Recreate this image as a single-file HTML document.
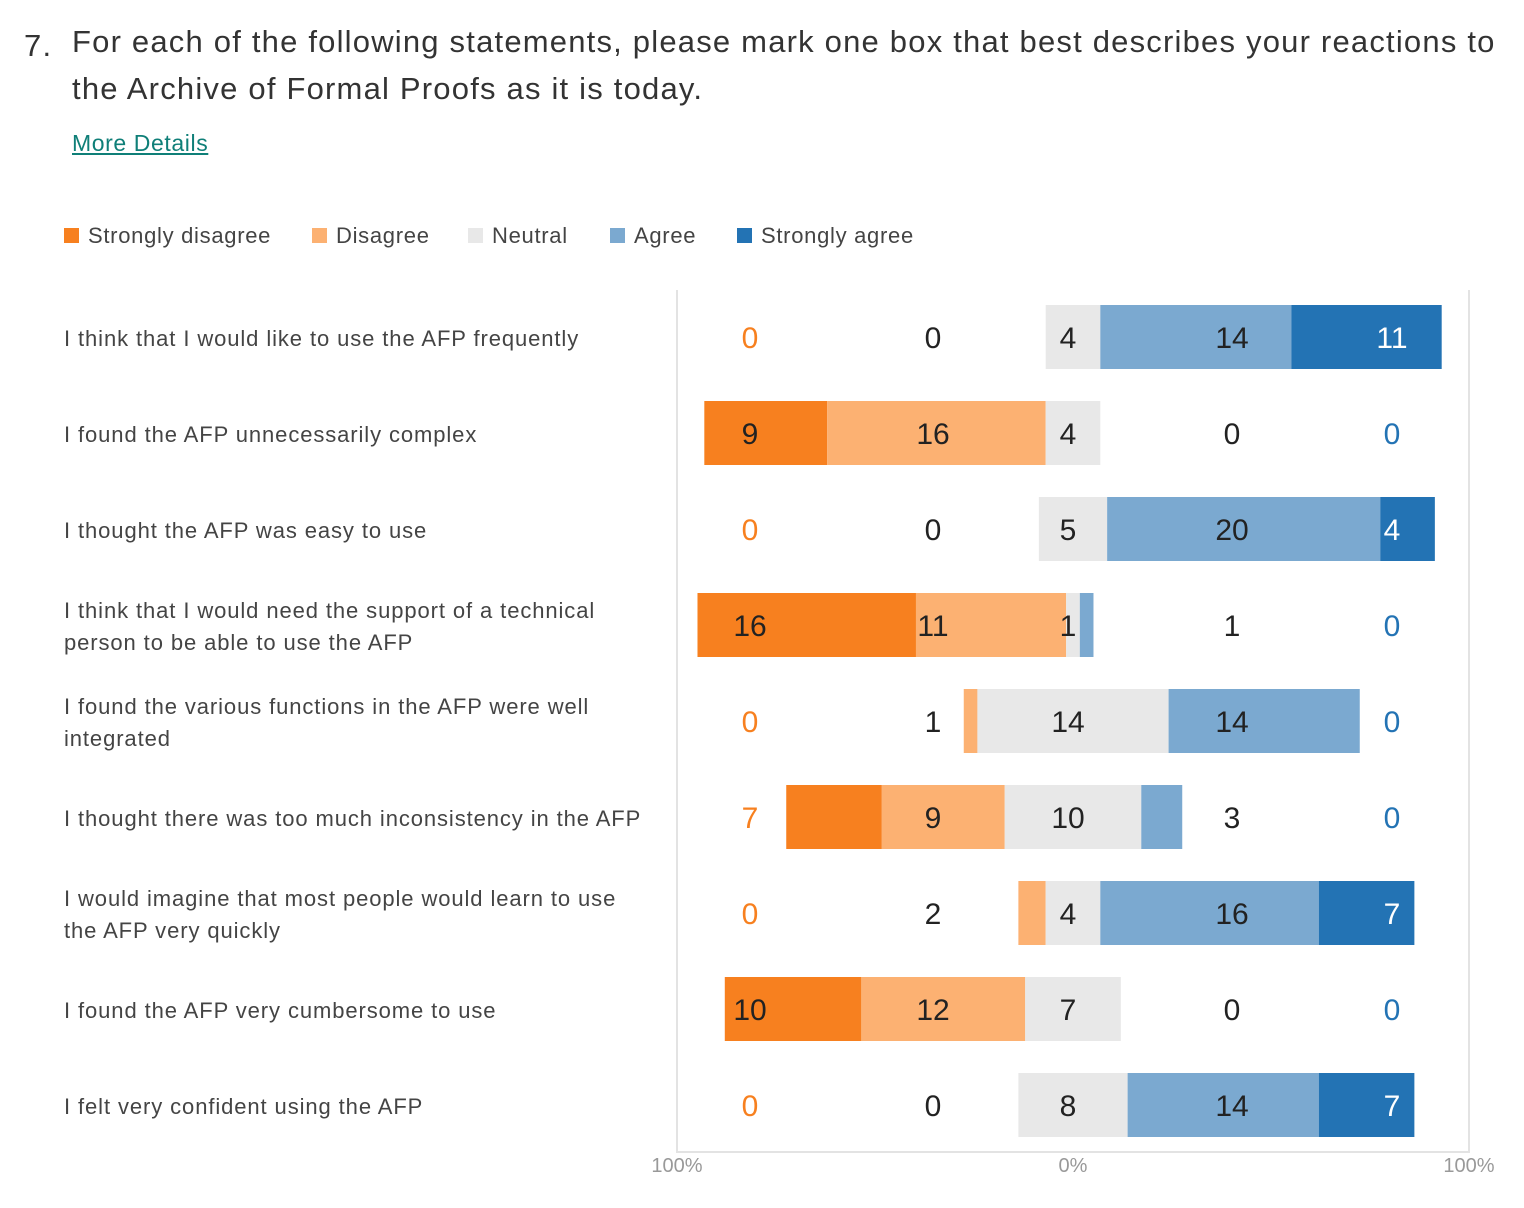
<!DOCTYPE html>
<html><head><meta charset="utf-8"><style>
body{margin:0;background:#fff;font-family:"Liberation Sans",sans-serif;width:1524px;height:1208px;overflow:hidden;position:relative;color:#333}
.t{position:absolute;font-size:31px;color:#333;letter-spacing:1.2px}
</style></head><body>
<div class="t" style="left:24px;top:22px;line-height:47px">7.</div>
<div class="t" style="left:72px;top:18px;line-height:47px;width:1460px">For each of the following statements, please mark one box that best describes your reactions to<br>the Archive of Formal Proofs as it is today.</div>
<a style="position:absolute;left:72px;top:130px;font-size:23px;letter-spacing:0.6px;color:#0f7f78;text-decoration:underline">More Details</a>
<svg id="c" width="1524" height="1208" style="position:absolute;left:0;top:0"></svg>
<script>
const categories=["I think that I would like to use the AFP frequently","I found the AFP unnecessarily complex","I thought the AFP was easy to use","I think that I would need the support of a technical|person to be able to use the AFP","I found the various functions in the AFP were well|integrated","I thought there was too much inconsistency in the AFP","I would imagine that most people would learn to use|the AFP very quickly","I found the AFP very cumbersome to use","I felt very confident using the AFP"];
const stronglyDisagree=[0,9,0,16,0,7,0,10,0];
const disagree=[0,16,0,11,1,9,2,12,0];
const neutral=[4,4,5,1,14,10,4,7,8];
const agree=[14,0,20,1,14,3,16,0,14];
const stronglyAgree=[11,0,4,0,0,0,7,0,7];
const seriesNames=["Strongly disagree","Disagree","Neutral","Agree","Strongly agree"];
const colors=["#f7801f","#fcb172","#e8e8e8","#7ba9d0","#2373b4"];
const ticks=["100%","0%","100%"];
const svg=document.getElementById('c');const NS="http://www.w3.org/2000/svg";
function mk(t,a,p){const e=document.createElementNS(NS,t);for(const k in a)e.setAttribute(k,a[k]);(p||svg).appendChild(e);return e;}
const cx=1073,half=396,total=29;
const x=v=>cx+v/total*half;
const rowY=i=>337+i*96;
const lx=[64,312,468,610,737];
seriesNames.forEach((n,i)=>{const g=mk('g',{});


mk('rect',{x:lx[i],y:228,width:15,height:15,fill:colors[i]},g);
const t=mk('text',{x:lx[i]+24,y:243,'font-size':22,fill:'#444','letter-spacing':0.7},g);t.textContent=n;});
const ax=mk('path',{d:`M677 290V1152H1469V290`,stroke:'#e3e3e3',fill:'none','stroke-width':2});

[-total,0,total].forEach((v,i)=>{const t=mk('text',{x:x(v),y:1172,'font-size':20,fill:'#999','text-anchor':'middle'});t.textContent=ticks[i];
});
const labelX=[750,933,1068,1232,1392];
categories.forEach((c,i)=>{const y=rowY(i);
const lines=c.split('|');
const t=mk('text',{x:64,'font-size':22,fill:'#444','letter-spacing':0.9});

lines.forEach((l,j)=>{const s=mk('tspan',{x:64,y:y+9+(j-(lines.length-1)/2)*32},t);s.textContent=l;});
const vals=[stronglyDisagree[i],disagree[i],neutral[i],agree[i],stronglyAgree[i]];
const n0=-vals[2]/2;
const starts=[n0-vals[1]-vals[0],n0-vals[1],n0,n0+vals[2],n0+vals[2]+vals[3]];
vals.forEach((v,k)=>{if(v>0){const r=mk('rect',{x:x(starts[k]),y:y-32,width:x(starts[k]+v)-x(starts[k]),height:64,fill:colors[k]});
}
let col='#222';if(k==0&&(v==0||labelX[0]<x(starts[0])))col='#f7801f';if(k==4)col=v==0?'#2373b4':'#fff';
const tt=mk('text',{x:labelX[k],y:y+11,'font-size':30,fill:col,'text-anchor':'middle'});tt.textContent=v;
});
});
</script>
</body></html>
